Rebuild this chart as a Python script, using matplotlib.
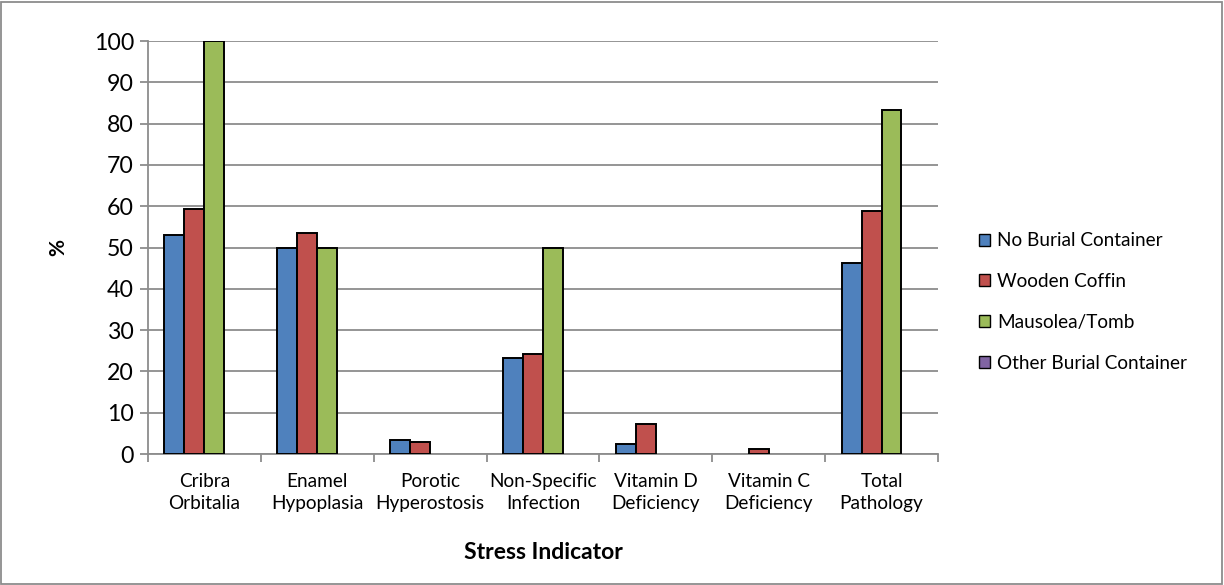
import numpy as np
import matplotlib.pyplot as plt
from matplotlib.patches import Rectangle

plt.rcParams['font.family'] = ['Lato', 'DejaVu Sans']

categories = ['Cribra\nOrbitalia', 'Enamel\nHypoplasia', 'Porotic\nHyperostosis',
              'Non-Specific\nInfection', 'Vitamin D\nDeficiency', 'Vitamin C\nDeficiency',
              'Total\nPathology']
no_container = [53.0, 50.0, 3.4, 23.2, 2.4, 0.0, 46.3]
wooden_coffin = [59.3, 53.6, 2.9, 24.1, 7.3, 1.2, 58.9]
mausolea_tomb = [100.0, 50.0, 0.0, 50.0, 0.0, 0.0, 83.3]
other_container = [0.0, 0.0, 0.0, 0.0, 0.0, 0.0, 0.0]

series = [
    ('No Burial Container', no_container, '#4F81BD'),
    ('Wooden Coffin', wooden_coffin, '#C0504D'),
    ('Mausolea/Tomb', mausolea_tomb, '#9BBB59'),
    ('Other Burial Container', other_container, '#8064A2'),
]

fig = plt.figure(figsize=(12.24, 5.85), dpi=100)
ax = fig.add_axes([0.1209, 0.2239, 0.6454, 0.706])

x = np.arange(len(categories))
w = 0.177
for i, (name, vals, col) in enumerate(series):
    # zero-height bars get no outline so they don't leave a line on the axis
    lw = [1.4 if v > 0 else 0 for v in vals]
    ax.bar(x + (i - 1.5) * w, vals, w, color=col, edgecolor='black',
           linewidth=lw, zorder=3)
    ax.bar([0], [0], 0, color=col, edgecolor='black', linewidth=1.0, label=name)

ax.set_xlim(-0.5, len(categories) - 0.5)
ax.set_ylim(0, 100)
ax.set_yticks(range(0, 101, 10))
ax.yaxis.grid(True, color='#8c8c8c', linewidth=1.3, zorder=0)
ax.set_axisbelow(True)

ax.set_xticks(np.arange(-0.5, len(categories), 1.0))
ax.set_xticklabels([])
ax.set_xticks(x, minor=True)
ax.set_xticklabels(categories, minor=True, fontsize=13.7, linespacing=1.3)
ax.tick_params(axis='x', which='minor', length=0, pad=14)
ax.tick_params(axis='x', which='major', length=6, width=1.3, color='#8c8c8c')
ax.tick_params(axis='y', length=6, width=1.3, color='#8c8c8c', labelsize=16.7, pad=4)

for s in ['top', 'right']:
    ax.spines[s].set_visible(False)
for s in ['left', 'bottom']:
    ax.spines[s].set_color('#8c8c8c')
    ax.spines[s].set_linewidth(1.3)

ax.set_ylabel('%', fontsize=15, fontweight='bold', labelpad=18)
ax.set_xlabel('Stress Indicator', fontsize=16.5, fontweight='bold', labelpad=22)

leg = ax.legend(loc='center left', bbox_to_anchor=(1.03, 0.368), frameon=False,
                fontsize=13.7, handlelength=0.6, handleheight=0.6,
                handletextpad=0.35, labelspacing=1.25)

fig.patches.append(Rectangle((0.001, 0.002), 0.997, 0.995, transform=fig.transFigure,
                             fill=False, edgecolor='#8c8c8c', linewidth=1.3))

fig.savefig('out.png', dpi=100)
